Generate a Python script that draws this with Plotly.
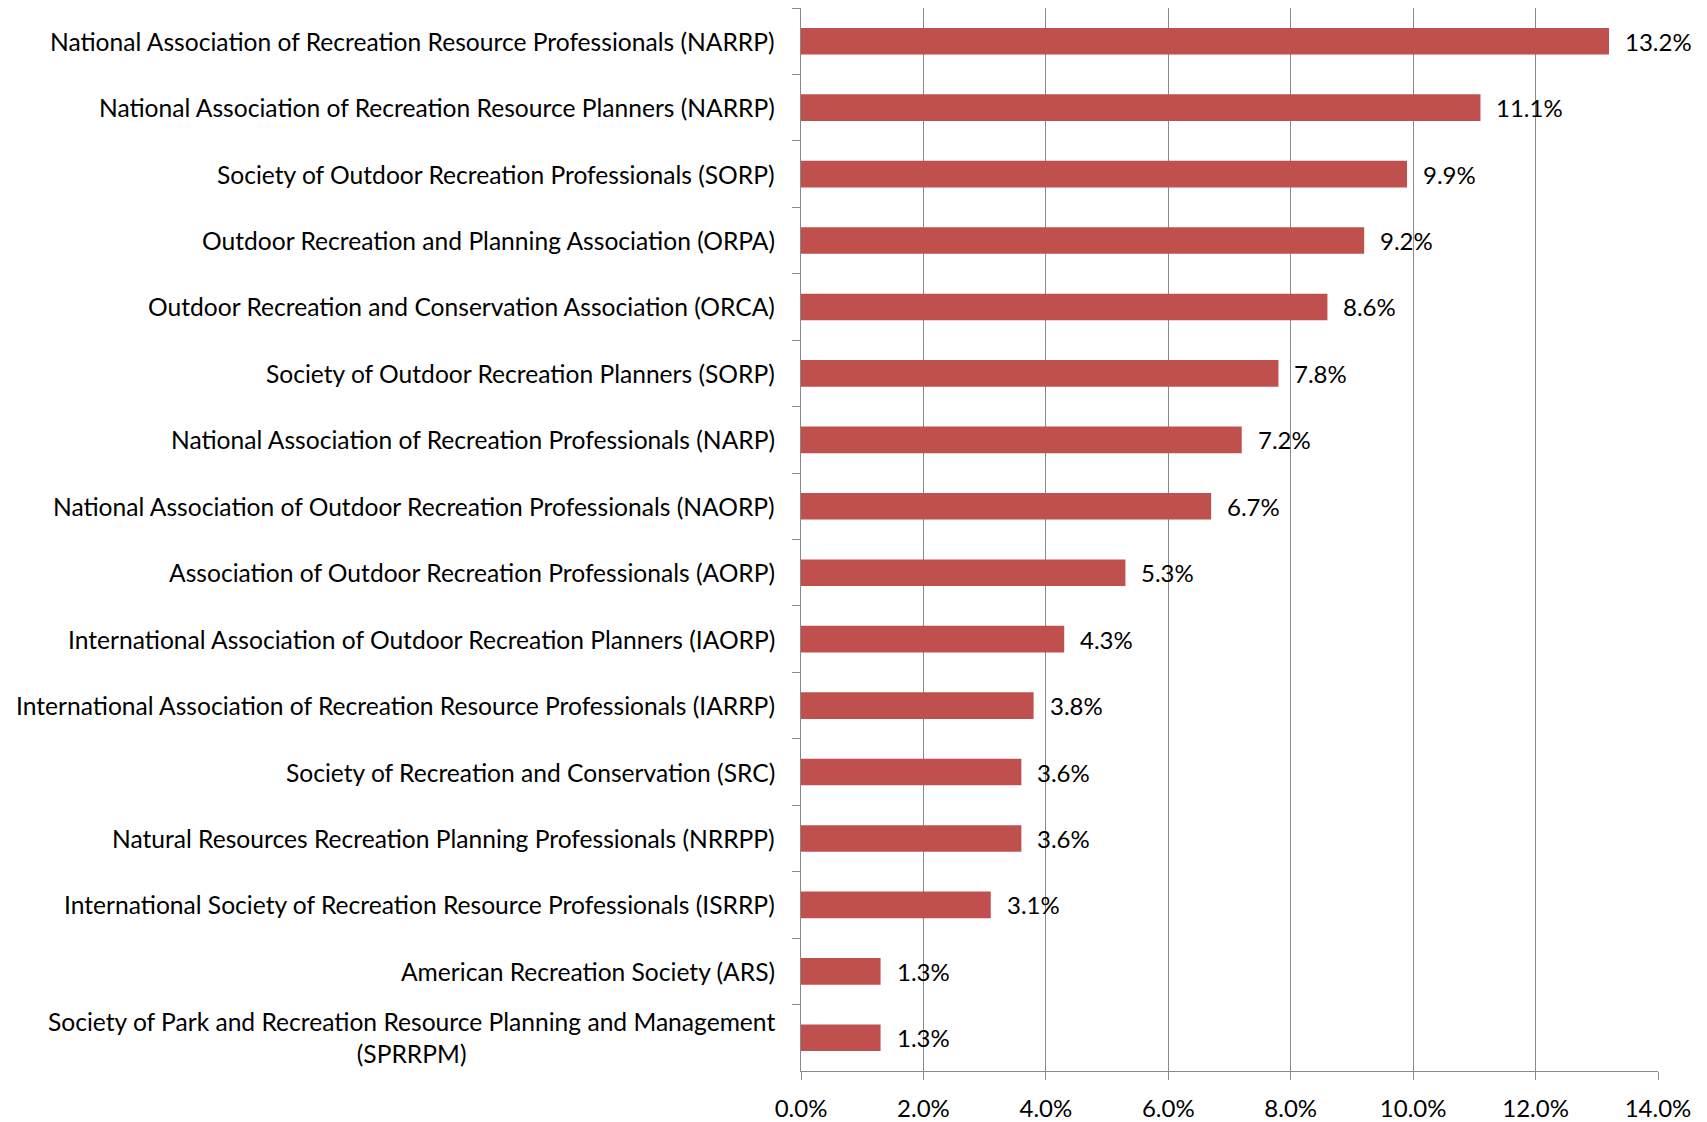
import plotly.graph_objects as go

categories = [
    "National Association of Recreation Resource Professionals (NARRP)",
    "National Association of Recreation Resource Planners (NARRP)",
    "Society of Outdoor Recreation Professionals (SORP)",
    "Outdoor Recreation and Planning Association (ORPA)",
    "Outdoor Recreation and Conservation Association (ORCA)",
    "Society of Outdoor Recreation Planners (SORP)",
    "National Association of Recreation Professionals (NARP)",
    "National Association of Outdoor Recreation Professionals (NAORP)",
    "Association of Outdoor Recreation Professionals (AORP)",
    "International Association of Outdoor Recreation Planners (IAORP)",
    "International Association of Recreation Resource Professionals (IARRP)",
    "Society of Recreation and Conservation (SRC)",
    "Natural Resources Recreation Planning Professionals (NRRPP)",
    "International Society of Recreation Resource Professionals (ISRRP)",
    "American Recreation Society (ARS)",
    "Society of Park and Recreation Resource Planning and Management<br>(SPRRPM)",
]
values = [13.2, 11.1, 9.9, 9.2, 8.6, 7.8, 7.2, 6.7, 5.3, 4.3, 3.8, 3.6, 3.6, 3.1, 1.3, 1.3]
x_ticks = [0, 2, 4, 6, 8, 10, 12, 14]
x_tick_labels = ["0.0%", "2.0%", "4.0%", "6.0%", "8.0%", "10.0%", "12.0%", "14.0%"]

FONT = "Lato"
GRID = "#898989"

fig = go.Figure()
fig.add_trace(go.Bar(
    x=values, y=categories, orientation="h",
    marker=dict(color="#C0504D", line=dict(width=0)),
    width=0.4,
    hoverinfo="x+y",
))

annotations = []
for c, v in zip(categories, values):
    annotations.append(dict(
        x=v, y=c, xref="x", yref="y", text=f"{v:.1f}%", showarrow=False,
        xanchor="left", yanchor="middle", xshift=14,
        font=dict(family=FONT, size=24, color="black"),
    ))
    annotations.append(dict(
        x=0, y=c, xref="paper", yref="y", text=c, showarrow=False,
        xanchor="right", yanchor="middle", xshift=-24, align="center",
        font=dict(family=FONT, size=24.6, color="black"),
    ))

fig.update_layout(
    width=1699, height=1114,
    margin=dict(l=793, r=49, t=0, b=43),
    paper_bgcolor="white", plot_bgcolor="white",
    showlegend=False,
    font=dict(family=FONT, size=24, color="black"),
    annotations=annotations,
    xaxis=dict(
        range=[0, 14], tickmode="array", tickvals=x_ticks, ticktext=x_tick_labels,
        showgrid=True, gridcolor=GRID, gridwidth=1.3,
        showline=True, linecolor=GRID, linewidth=1.3,
        ticks="outside", ticklen=8, tickcolor=GRID, tickwidth=1.3,
        zeroline=False, ticklabelstandoff=8,
        tickfont=dict(family=FONT, size=24, color="black"),
    ),
    yaxis=dict(
        type="category", categoryorder="array", categoryarray=categories,
        autorange="reversed",
        showgrid=False, showline=True, linecolor=GRID, linewidth=1.3,
        ticks="outside", ticklen=8, tickcolor=GRID, tickwidth=1.3,
        tickson="boundaries", showticklabels=False,
    ),
)

fig.write_html("out.html")
